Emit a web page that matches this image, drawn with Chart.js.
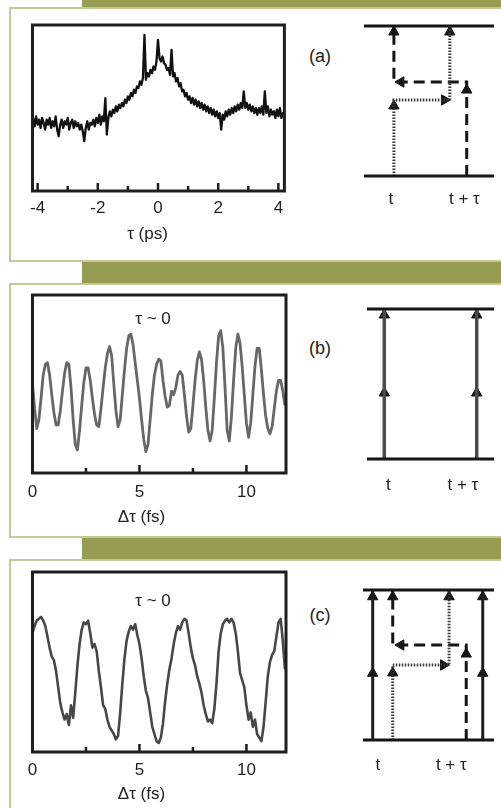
<!DOCTYPE html>
<html><head><meta charset="utf-8">
<script src="https://cdn.jsdelivr.net/npm/chart.js@4.4.1/dist/chart.umd.min.js"></script>
<style>
html,body{margin:0;padding:0;background:#fff;}
body{width:501px;height:808px;position:relative;overflow:hidden;font-family:"Liberation Sans",Arial,Helvetica,sans-serif;color:#222;}
.frame{position:absolute;left:9px;width:600px;border:2px solid #c4c89c;box-sizing:border-box;}
.bar{position:absolute;left:82px;width:419px;background:#979c52;}
canvas{position:absolute;}
.note{position:absolute;font-size:17px;line-height:1;transform:translate(-50%,-50%);white-space:nowrap;color:#222;}
.pl{font-size:18px;}
</style></head>
<body>
<div class="frame" style="top:7px;height:255px"></div>
<div class="frame" style="top:283px;height:255px"></div>
<div class="frame" style="top:559px;height:300px"></div>
<div class="bar" style="top:0;height:7px"></div>
<div class="bar" style="top:262px;height:21px"></div>
<div class="bar" style="top:538px;height:21px"></div>

<canvas id="pa" width="281" height="245" style="left:9px;top:0px"></canvas>
<canvas id="pb" width="293" height="243" style="left:-3px;top:285px"></canvas>
<canvas id="pc" width="293" height="243" style="left:-3px;top:562px"></canvas>
<canvas id="da" width="151" height="204" style="left:350px;top:12px"></canvas>
<canvas id="db" width="146" height="204" style="left:355px;top:295px"></canvas>
<canvas id="dc" width="151" height="204" style="left:350px;top:576px"></canvas>

<div class="note pl" style="left:320px;top:56px">(a)</div>
<div class="note pl" style="left:320px;top:348px">(b)</div>
<div class="note pl" style="left:320px;top:615px">(c)</div>
<div class="note" style="left:153px;top:318px">τ ~ 0</div>
<div class="note" style="left:153px;top:600px">τ ~ 0</div>

<script>
// ---------------- data ----------------
// (a) signal vs tau (ps), sampled every 0.05 ps from -4.15 ps
const tauStartA = -4.15, tauStepA = 0.05;
const sigA = [
 44,39,45,40,43,38,44,41,37,43,
 40,44,38,42,39,45,37,33,40,43,
 38,42,40,44,37,41,43,38,42,39,
 41,37,40,36,30,38,42,37,41,40,
 43,39,44,41,46,40,45,42,56,34,
 44,48,45,49,47,51,48,52,50,53,
 51,55,53,57,55,59,57,61,59,63,
 62,66,64,68,94,67,71,69,73,71,
 75,73,78,91,80,78,81,77,76,73,
 74,70,85,69,71,66,68,63,65,60,
 61,57,59,55,57,53,56,52,55,51,
 54,50,53,49,52,48,51,47,50,46,
 49,45,48,44,47,37,46,43,48,45,
 49,46,50,47,51,48,52,49,53,50,
 60,50,53,49,52,48,51,47,50,46,
 50,47,51,46,60,47,51,45,49,46,
 48,44,49,45,50,44,47,45
];
// (b) and (c) signal vs delta tau (fs), sampled every 0.1 fs from 0
const dtStart = 0, dtStep = 0.1;
const sigB = [
 50,36,25,30,42,55,61,62,55,44,
 34,27,27,35,46,56,62,61,48,30,
 16,13,24,38,51,59,59,52,42,33,
 27,26,36,48,59,67,71,66,50,35,
 26,30,44,58,70,77,78,72,62,52,
 42,30,19,12,16,30,44,55,61,64,
 63,52,43,37,38,46,44,48,55,57,
 55,44,32,23,25,38,52,63,68,64,
 52,37,24,18,24,42,62,77,80,70,
 48,24,18,32,52,70,78,73,60,44,
 28,20,28,44,60,70,70,58,44,32,
 25,22,26,36,46,52,52,46,38
];
const sigC = [
 66,70,73,74,75,73,70,64,58,53,
 51,45,36,27,22,18,21,15,26,19,
 33,48,60,68,72,71,73,66,58,60,
 56,45,36,26,24,18,14,12,10,7,
 9,22,38,52,62,67,70,68,71,65,
 60,52,42,34,30,22,14,10,6,5,
 8,16,28,38,46,52,60,66,70,68,
 72,74,73,66,58,52,48,42,38,33,
 26,21,17,18,16,24,38,56,66,71,
 73,74,72,74,72,66,56,44,40,36,
 26,18,22,14,18,10,8,6,14,28,
 42,50,54,56,64,72,74,62,46
];
// tick labels / tick marks
const ticksA = [-4,-2,0,2,4];
const minorA = [-3,-1,1,3];
const ticksB = [0,5,10];
const majorB = [5,10];
const minorB = [2.5,7.5];
const titleA = 'τ (ps)';
const titleB = 'Δτ (fs)';
// diagrams: levels at y=0 (ground) and y=1 (top); x in arbitrary units 0..10
const diagLabels = ['t', 't + τ'];
const labelPosA = [2.07, 7.72], labelPosB = [1.69, 7.55], labelPosC = [1.13, 6.74];
const solidB = [1.36, 8.64];
const solidC = [0.74, 9.14];
const dottedA = [[2.3,0],[2.3,0.507],[6.6,0.507],[6.6,1]];
const dashedA = [[7.9,0],[7.9,0.627],[2.3,0.627],[2.3,1]];
const dottedC = [[2.27,0],[2.27,0.5],[6.57,0.5],[6.57,1]];
const dashedC = [[7.88,0],[7.88,0.633],[2.27,0.633],[2.27,1]];
// arrows: [x, y, direction]
const arrowsA = [[2.3,0.467,'up'],[6.19,0.507,'right'],[6.6,0.96,'up'],[7.9,0.573,'up'],[2.84,0.627,'left'],[2.3,0.96,'up']];
const arrowsB = [[1.36,0.96,'up'],[1.36,0.44,'up'],[8.64,0.96,'up'],[8.64,0.44,'up']];
const arrowsC = [[0.74,0.955,'up'],[0.74,0.445,'up'],[9.14,0.955,'up'],[9.14,0.445,'up'],
  [2.27,0.447,'up'],[6.15,0.5,'right'],[6.57,0.955,'up'],[7.88,0.573,'up'],[2.89,0.633,'left'],[2.27,0.955,'up']];

// ---------------- drawing ----------------
const FONT = '"Liberation Sans", Arial, Helvetica, sans-serif';
Chart.defaults.font.family = FONT;
Chart.defaults.color = '#222';

function boxPlugin(major, minor) {
  return {
    id: 'box',
    afterDatasetsDraw(chart) {
      const {ctx, chartArea: a, scales: {x}} = chart;
      ctx.save();
      ctx.strokeStyle = '#1e1e1e';
      ctx.lineWidth = 3;
      ctx.strokeRect(a.left, a.top, a.right - a.left, a.bottom - a.top);
      ctx.lineWidth = 2.5;
      ctx.beginPath();
      major.forEach(v => { const p = x.getPixelForValue(v); ctx.moveTo(p, a.bottom); ctx.lineTo(p, a.bottom - 8); });
      minor.forEach(v => { const p = x.getPixelForValue(v); ctx.moveTo(p, a.bottom); ctx.lineTo(p, a.bottom - 5); });
      ctx.stroke();
      ctx.restore();
    }
  };
}

function plotChart(id, xs, ys, o) {
  const pts = xs.map((x, i) => ({x, y: ys[i]}));
  return new Chart(document.getElementById(id), {
    type: 'scatter',
    data: {datasets: [{data: pts, showLine: true, pointRadius: 0, borderColor: o.color, borderWidth: o.lw, tension: 0, clip: 2, borderJoinStyle: 'round'}]},
    options: {
      responsive: false, animation: false, events: [],
      layout: {padding: {left: 0, right: o.padR, top: o.padT, bottom: o.padB}},
      plugins: {
        legend: {display: false}, tooltip: {enabled: false},
        title: {display: true, position: 'bottom', text: o.title, color: '#222', font: {family: FONT, size: 17, weight: 'normal'}, padding: {top: o.titlePad, bottom: 0}}
      },
      scales: {
        x: {type: 'linear', min: o.xmin, max: o.xmax,
          grid: {display: false, drawTicks: false}, border: {display: false},
          afterBuildTicks: s => { s.ticks = o.labels.map(v => ({value: v})); },
          afterFit: s => { s.height = o.axisH; },
          ticks: {autoSkip: false, maxRotation: 0, padding: o.tickPad, color: '#222', font: {family: FONT, size: 17}, callback: v => String(v)}
        },
        y: {type: 'linear', min: 0, max: 100, display: true,
          grid: {display: false, drawTicks: false}, border: {display: false}, ticks: {display: false},
          afterFit: s => { s.width = o.yW; }
        }
      }
    },
    plugins: [boxPlugin(o.major, o.minor)]
  });
}

const rotOf = {up: 0, right: 90, left: -90, down: 180};

function diagramChart(id, d) {
  const ds = [];
  const line = (pts, extra) => Object.assign({data: pts.map(([x, y]) => ({x, y})), showLine: true, pointRadius: 0, clip: false, borderColor: '#151515', borderWidth: 3, tension: 0}, extra || {});
  ds.push(line([[0,0],[10,0]]));
  ds.push(line([[0,1],[10,1]]));
  (d.solid || []).forEach(xv => ds.push(line([[xv,0],[xv,1]], {borderColor: d.solidColor, borderWidth: d.solidW})));
  if (d.dotted) ds.push(line(d.dotted, {borderDash: [1.5,1.5], borderWidth: 3, borderColor: '#3a3a3a'}));
  if (d.dashed) ds.push(line(d.dashed, {borderDash: [11,6], borderWidth: 3, borderColor: '#151515'}));
  ds.push({data: d.arrows.map(a => ({x: a[0], y: a[1]})), showLine: false, clip: false,
    pointStyle: 'triangle', pointRadius: 6, pointRotation: d.arrows.map(a => rotOf[a[2]]),
    backgroundColor: '#151515', borderColor: '#151515', borderWidth: 1});
  return new Chart(document.getElementById(id), {
    type: 'scatter',
    data: {datasets: ds},
    options: {
      responsive: false, animation: false, events: [],
      layout: {padding: {left: d.padL, right: d.padR, top: d.padT, bottom: 0}},
      plugins: {legend: {display: false}, tooltip: {enabled: false}},
      scales: {
        x: {type: 'linear', min: 0, max: 10,
          grid: {display: false, drawTicks: false}, border: {display: false},
          afterBuildTicks: s => { s.ticks = d.labelPos.map(v => ({value: v})); },
          afterFit: s => { s.height = 40; },
          ticks: {autoSkip: false, maxRotation: 0, padding: d.tickPad, color: '#222', font: {family: FONT, size: 17}, callback: (v, i) => diagLabels[i]}
        },
        y: {type: 'linear', min: 0, max: 1, display: false}
      }
    }
  });
}

const tauA = sigA.map((_, i) => +(tauStartA + tauStepA * i).toFixed(2));
const dtB = sigB.map((_, i) => +(dtStart + dtStep * i).toFixed(1));
const dtC = sigC.map((_, i) => +(dtStart + dtStep * i).toFixed(1));

plotChart('pa', tauA, sigA, {color: '#111', lw: 2.3, title: titleA, xmin: -4.17, xmax: 4.2,
  labels: ticksA, major: ticksA, minor: minorA, padR: 4, padT: 25, padB: 0.8, yW: 23.5, axisH: 30, tickPad: 6.8, titlePad: 2.8});
plotChart('pb', dtB, sigB, {color: '#676767', lw: 2.8, title: titleB, xmin: 0, xmax: 11.85,
  labels: ticksB, major: majorB, minor: minorB, padR: 4, padT: 10, padB: 0.3, yW: 35.5, axisH: 34, tickPad: 8.8, titlePad: 0.3});
plotChart('pc', dtC, sigC, {color: '#474747', lw: 2.6, title: titleB, xmin: 0, xmax: 11.85,
  labels: ticksB, major: majorB, minor: minorB, padR: 4, padT: 10, padB: 0.6, yW: 35.5, axisH: 32, tickPad: 7.8, titlePad: 0});

diagramChart('da', {dotted: dottedA, dashed: dashedA, arrows: arrowsA, labelPos: labelPosA, padL: 14, padR: 3, padT: 14, tickPad: 12.8});
diagramChart('db', {solid: solidB, solidColor: '#4a4a4a', solidW: 3.5, arrows: arrowsB, labelPos: labelPosB, padL: 12, padR: 2, padT: 14, tickPad: 15.8});
diagramChart('dc', {solid: solidC, solidColor: '#1e1e1e', solidW: 3, dotted: dottedC, dashed: dashedC, arrows: arrowsC, labelPos: labelPosC, padL: 13, padR: 3, padT: 14, tickPad: 14.8});
</script>
</body></html>
